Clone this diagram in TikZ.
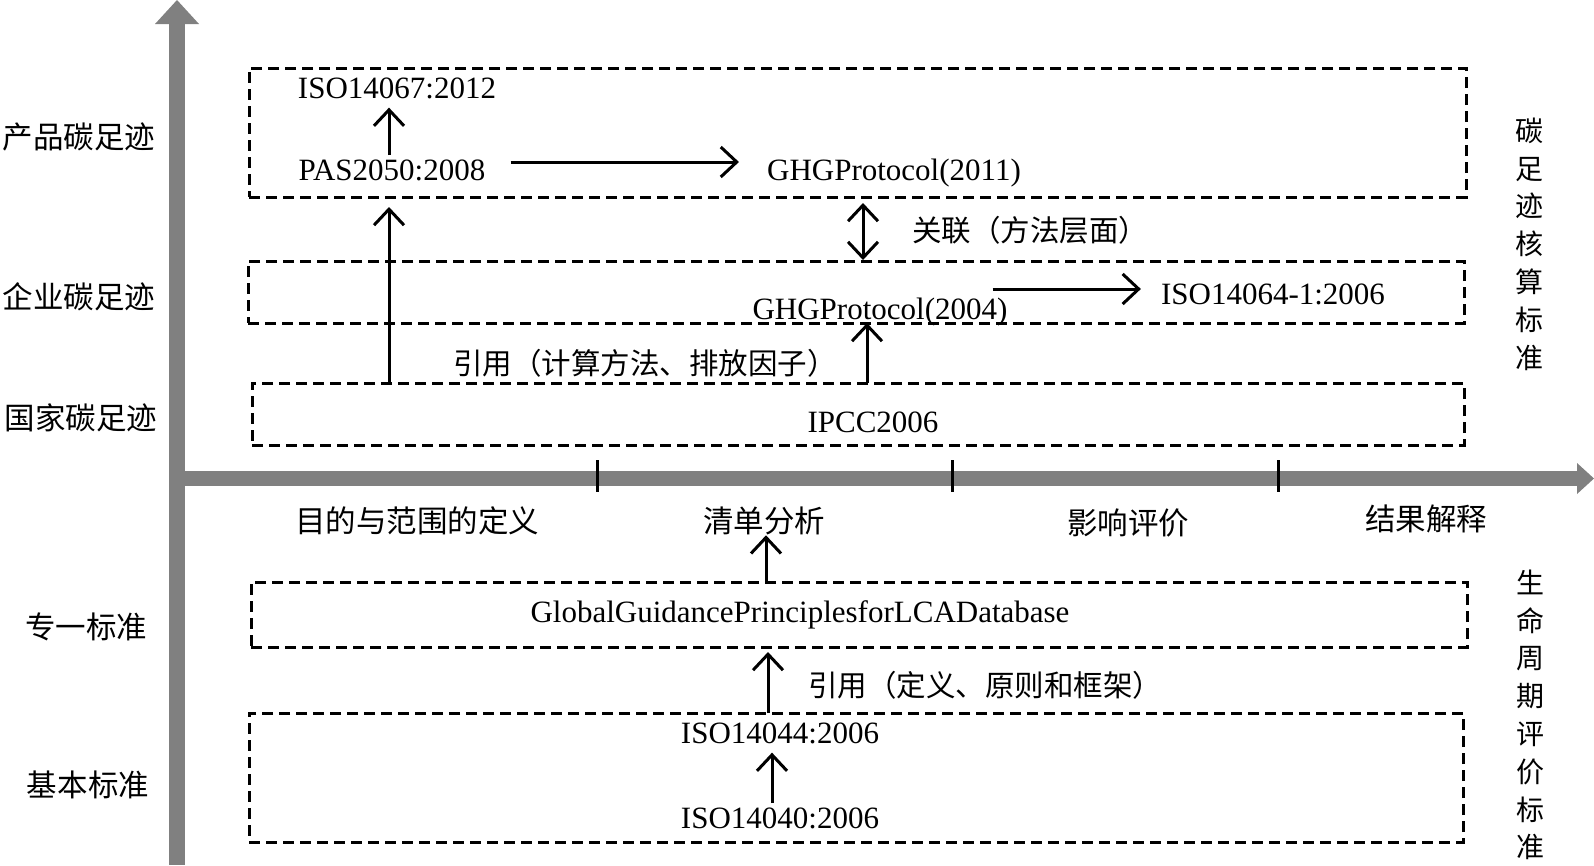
\documentclass[tikz,border=0pt]{standalone}
\usepackage{fontspec}
\setmainfont{Liberation Serif}
\newfontfamily\cjk{Noto Sans CJK SC}
\usetikzlibrary{arrows.meta}
\definecolor{axisgray}{HTML}{808080}
\begin{document}
\begin{tikzpicture}[x=1pt,y=-1pt,
  box/.style={draw, line width=3pt, dash pattern=on 11pt off 6pt, inner sep=0pt, outer sep=0pt},
  lat/.style={font=\fontsize{31}{36}\selectfont, inner sep=0pt, anchor=base},
  zh/.style={font=\cjk\fontsize{30.5}{34}\selectfont, inner sep=0pt},
  zhn/.style={font=\cjk\fontsize{29.5}{34}\selectfont, inner sep=0pt, anchor=west},
  vzh/.style={font=\cjk\fontsize{28}{37.8}\selectfont, inner sep=0pt, align=center},
  arr/.style={line width=3pt, -{Straight Barb[length=16pt,width=30pt]}},
  darr/.style={line width=3pt, {Straight Barb[length=16pt,width=30pt]}-{Straight Barb[length=16pt,width=30pt]}},
  tickmark/.style={line width=3pt}
]
\useasboundingbox (0,0) rectangle (1594,865);
% axes
\fill[axisgray] (169,865) rectangle (185,24);
\fill[axisgray] (155,24) -- (177,0) -- (199,24) -- cycle;
\fill[axisgray] (185,471) rectangle (1578,486);
\fill[axisgray] (1577,463) -- (1594,478.5) -- (1577,494) -- cycle;
\draw[tickmark] (597,460) -- (597,492);
\draw[tickmark] (952,460) -- (952,492);
\draw[tickmark] (1278,460) -- (1278,492);
% boxes
\node[box, minimum width=1217pt, minimum height=129pt] (B1) at (857.5,132.5) {};
\node[box, minimum width=1216pt, minimum height=62pt] (B2) at (856,292) {};
\node[box, minimum width=1212pt, minimum height=62pt] (B3) at (858,414) {};
\node[box, minimum width=1216pt, minimum height=65pt] (B4) at (859,614.5) {};
\node[box, minimum width=1214pt, minimum height=129pt] (B5) at (856,777.5) {};
% latin texts
\node[lat] (iso67) at (397,98) {ISO14067:2012};
\node[lat] (pas) at (392,180) {PAS2050:2008};
\node[lat] (ghg11) at (894,180) {GHGProtocol(2011)};
\node[lat] (ghg04) at (880,319) {GHGProtocol(2004)};
\node[lat] (iso64) at (1273,304) {ISO14064-1:2006};
\node[lat] (ipcc) at (873,432) {IPCC2006};
\node[lat] (gg) at (800,622) {GlobalGuidancePrinciplesforLCADatabase};
\node[lat] (iso44) at (780,743) {ISO14044:2006};
\node[lat] (iso40) at (780,828) {ISO14040:2006};
% left labels
\node[zh] (l1) at (79,137) {产品碳足迹};
\node[zh] (l2) at (79,297) {企业碳足迹};
\node[zh] (l3) at (81,418) {国家碳足迹};
\node[zh] (l4) at (86,627) {专一标准};
\node[zh] (l5) at (88,785) {基本标准};
% axis labels
\node[zh] (a1) at (417,521) {目的与范围的定义};
\node[zh] (a2) at (764,521) {清单分析};
\node[zh] (a3) at (1128,523) {影响评价};
\node[zh] (a4) at (1426,519) {结果解释};
% annotations
\node[zhn] (n1) at (912,230) {关联（方法层面）};
\node[zhn] (n2) at (453,363) {引用（计算方法、排放因子）};
\node[zhn] (n3) at (808,685) {引用（定义、原则和框架）};
% right vertical labels
\node[vzh] (v1) at (1529,244) {碳\\足\\迹\\核\\算\\标\\准};
\node[vzh] (v2) at (1530,715) {生\\命\\周\\期\\评\\价\\标\\准};
% connector columns
\coordinate (cL) at (389,0);
\coordinate (cD) at (863,0);
\coordinate (cI) at (867,0);
\coordinate (cQ) at (766,0);
\coordinate (cG) at (768,0);
\coordinate (cS) at (772,0);
% arrows
\draw[arr, shorten <=4pt, shorten >=9pt] (cL |- pas.north) -- (cL |- iso67.south);
\draw[arr] ([xshift=25pt,yshift=18pt]pas.base east) -- ([xshift=-28pt,yshift=18pt]ghg11.base west);
\draw[arr, shorten >=10pt] (cL |- B3.north) -- (cL |- B1.south);
\draw[darr, shorten <=6pt, shorten >=1pt] (cD |- B1.south) -- (cD |- B2.north);
\draw[arr] ([xshift=-15pt,yshift=30pt]ghg04.base east) -- ([xshift=-20pt,yshift=15pt]iso64.base west);
\draw[arr] (cI |- B3.north) -- (cI |- B2.south);
\draw[arr] (cQ |- B4.north) -- (cQ |- a2.south);
\draw[arr, shorten >=5pt] (cG |- B5.north) -- (cG |- B4.south);
\draw[arr, shorten <=4pt, shorten >=9pt] (cS |- iso40.north) -- (cS |- iso44.south);
\end{tikzpicture}
\end{document}
